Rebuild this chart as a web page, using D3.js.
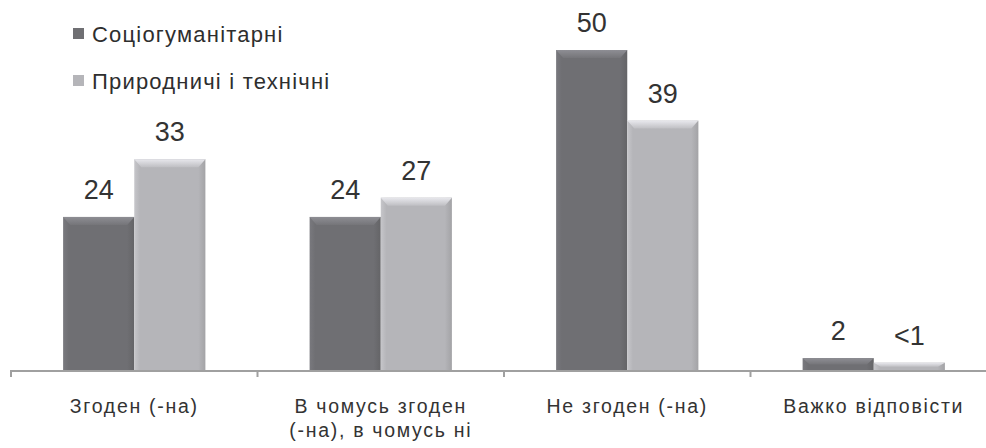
<!DOCTYPE html>
<html><head><meta charset="utf-8">
<script src="https://cdn.jsdelivr.net/npm/d3@7/dist/d3.min.js"></script>
<style>body{margin:0;background:#fff}svg{display:block;font-family:"Liberation Sans",Arial,sans-serif}</style>
</head><body><svg id="c" width="986" height="448"></svg>
<script>
const categories = ["Згоден (-на)", "В чомусь згоден|(-на), в чомусь ні", "Не згоден (-на)", "Важко відповісти"];
const series = ["Соціогуманітарні", "Природничі і технічні"];
const valuesSocio = [24, 24, 50, 2];
const valuesNatural = [33, 27, 39, 1.3];
const labelsSocio = ["24", "24", "50", "2"];
const labelsNatural = ["33", "27", "39", "<1"];

const svg = d3.select("#c");
const W = 986, baseY = 371;
const colors = ["#6f6f73", "#b5b5b9"];

const defs = svg.append("defs");
colors.forEach((c, i) => {
  const g = defs.append("linearGradient").attr("id", "g" + i).attr("x1", 0).attr("x2", 1).attr("y1", 0).attr("y2", 0);
  g.append("stop").attr("offset", "0%").attr("stop-color", d3.color(c).brighter(0.25));
  g.append("stop").attr("offset", "8%").attr("stop-color", c);
  g.append("stop").attr("offset", "90%").attr("stop-color", c);
  g.append("stop").attr("offset", "100%").attr("stop-color", d3.color(c).darker(0.3));
  const t = defs.append("linearGradient").attr("id", "t" + i).attr("x1", 0).attr("x2", 0).attr("y1", 0).attr("y2", 1);
  t.append("stop").attr("offset", "0%").attr("stop-color", d3.color(c).brighter(0.7));
  t.append("stop").attr("offset", "100%").attr("stop-color", d3.color(c).brighter(0.15));
});

const x0 = d3.scaleBand().domain(categories).range([11, 997]).paddingInner(0.4228).paddingOuter(0.2114);
const x1 = d3.scaleBand().domain(series).range([0, x0.bandwidth()]);
const y = d3.scaleLinear().domain([0, 50]).range([baseY, 50]);

const data = categories.map((c, i) => ({
  cat: c,
  bars: [
    {s: series[0], v: valuesSocio[i], lab: labelsSocio[i], k: 0},
    {s: series[1], v: valuesNatural[i], lab: labelsNatural[i], k: 1}
  ]
}));

const grp = svg.append("g").selectAll("g").data(data).join("g")
  .attr("transform", d => `translate(${x0(d.cat)},0)`);

const bar = grp.selectAll("g.b").data(d => d.bars).join("g").attr("class", "b");
bar.append("rect")
  .attr("x", d => x1(d.s)).attr("width", x1.bandwidth())
  .attr("y", d => y(d.v)).attr("height", d => baseY - y(d.v))
  .attr("fill", d => `url(#g${d.k})`);
bar.append("path")
  .attr("d", d => {
    const xa = x1(d.s), xb = xa + x1.bandwidth(), t = y(d.v), h = Math.min(8, (baseY - t) / 2);
    return `M${xa},${t}L${xb},${t}L${xb - 7},${t + h}L${xa + 7},${t + h}Z`;
  })
  .attr("fill", d => `url(#t${d.k})`);
bar.append("text")
  .attr("x", d => x1(d.s) + x1.bandwidth() / 2)
  .attr("y", d => y(d.v) - 18)
  .attr("text-anchor", "middle")
  .attr("font-size", 27).attr("fill", "#333")
  .text(d => d.lab);

// axis
const ax = svg.append("g");
ax.append("line").attr("x1", 10).attr("x2", W).attr("y1", baseY).attr("y2", baseY)
  .attr("stroke", "#a0a0a0").attr("stroke-width", 2);
const bounds = categories.map(c => x0(c) - x0.step() * x0.paddingInner() / 2);
ax.selectAll("line.t").data(bounds).join("line").attr("class", "t")
  .attr("x1", d => d).attr("x2", d => d).attr("y1", baseY).attr("y2", baseY + 6)
  .attr("stroke", "#a0a0a0").attr("stroke-width", 2);

const xl = svg.append("g");
xl.selectAll("text").data(categories).join("text")
  .attr("x", d => x0(d) + x0.bandwidth() / 2)
  .attr("y", 413)
  .attr("text-anchor", "middle").attr("font-size", 19.5).attr("letter-spacing", 1.7).attr("fill", "#333")
  .each(function(d) {
    const lines = d.split("|");
    d3.select(this).selectAll("tspan").data(lines).join("tspan")
      .attr("x", x0(d) + x0.bandwidth() / 2)
      .attr("dy", (l, i) => i === 0 ? 0 : 24)
      .text(l => l);
  });

// legend
const lg = svg.append("g").selectAll("g").data(series).join("g")
  .attr("transform", (d, i) => `translate(73,${28 + i * 47})`);
lg.append("rect").attr("width", 11).attr("height", 11).attr("fill", (d, i) => colors[i]);
lg.append("text").attr("x", 19).attr("y", 14).attr("font-size", 22).attr("letter-spacing", 1.2).attr("fill", "#2e2e2e").text(d => d);
</script></body></html>
